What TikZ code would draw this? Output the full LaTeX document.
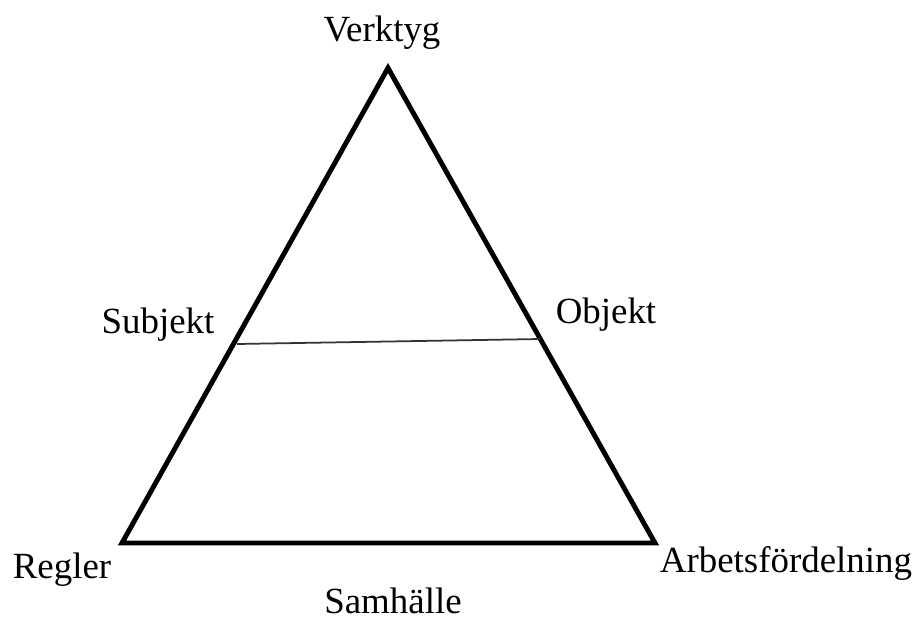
\documentclass[tikz,border=0pt]{standalone}
\usepackage{fontspec}
\setmainfont{Liberation Serif}
\usepackage{tikz}
\usetikzlibrary{positioning}

\tikzset{
	side/.style={line width=2.8pt},
	cut/.style={line width=1pt, black!80},
	lbl/.style={anchor=base, inner sep=0pt, font=\fontsize{21}{25}\selectfont},
}

\begin{document}
\begin{tikzpicture}[x=0.02cm, y=-0.02cm]
	\useasboundingbox (0,0) rectangle (917,619);
	% corners of the triangle
	\coordinate (verktyg) at (388,68);
	\coordinate (regler) at (122,543);
	\coordinate (arbete) at (655,543);
	\coordinate (subj) at (237,344);
	\coordinate (obj) at (540,339);
	%
	\node[lbl] (tV) at (382,41) {Verktyg};
	\node[lbl] (tS) at (158,333) {Subjekt};
	\node[lbl] (tO) at (606,323) {Objekt};
	\node[lbl] (tR) at (62,578) {Regler};
	\node[lbl] (tA) at (786,572) {Arbetsfördelning};
	\node[lbl] (tH) at (393,613) {Samhälle};
	%
	\draw[side] (verktyg) -- (arbete) -- (regler) -- cycle;
	\draw[cut] (subj) -- (obj);
\end{tikzpicture}
\end{document}
